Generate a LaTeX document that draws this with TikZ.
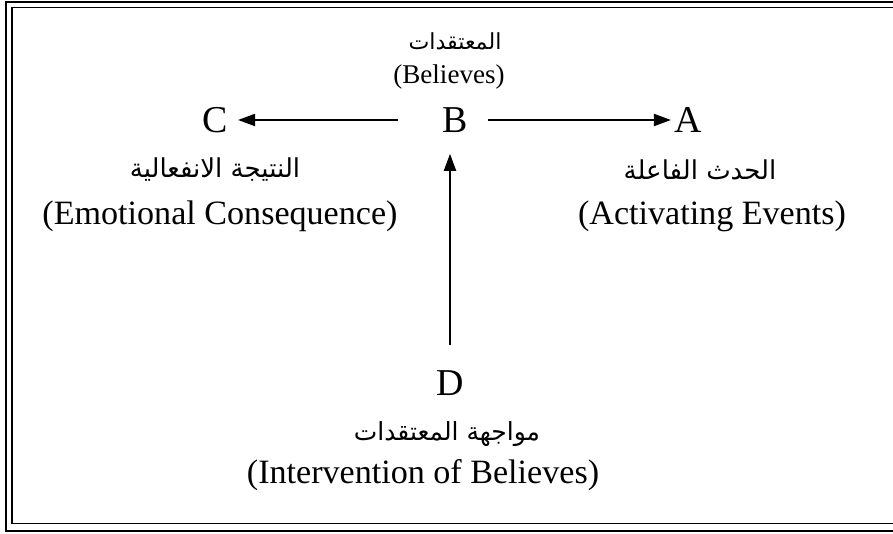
\documentclass[tikz,border=0pt]{standalone}
\usepackage{fontspec}
\setmainfont{Liberation Serif}
\newfontfamily\arabicfont[Script=Arabic]{DejaVu Sans}
\TeXXeTstate=1
\usetikzlibrary{positioning,arrows.meta}
\tikzset{
  %% nodes
  letter/.style  = {inner sep=0pt, font=\fontsize{21.6}{24}\selectfont},
  lbl/.style     = {inner sep=0pt, font=\fontsize{19.4}{22}\selectfont},
  lblsmall/.style= {inner sep=0pt, font=\fontsize{15.4}{18}\selectfont},
  arlbl/.style   = {inner sep=0pt, font=\arabicfont\fontsize{14.8}{18}\selectfont},
  arsmall/.style = {inner sep=0pt, font=\arabicfont\fontsize{12.6}{15}\selectfont},
  %% arrows
  flow/.style    = {-{Triangle[length=0.34cm,width=0.24cm]}, draw=black, line width=1.1pt},
  %% frame
  outer/.style   = {draw=black, line width=1.5pt},
  inner/.style   = {draw=black, line width=0.6pt},
}

\begin{document}
\begin{tikzpicture}
\useasboundingbox (0,0) rectangle (17.86,10.68);

%% ---- double frame (right side runs off the page) ----
\draw[outer] (0.12,0.06) rectangle (18.2,10.64);
\draw[inner] (0.24,0.21) rectangle (18.1,10.53);

%% ---- the four letters ----
\node[letter] (B) at (9.10,8.28) {B};
\node[letter] (C) at (4.30,8.28) {C};
\node[letter] (A) at (13.76,8.28) {A};
\node[letter] (D) at (9.00,3.02) {D};

%% ---- labels ----
\node[arsmall] (arB) at (9.10,9.86) {\beginR المعتقدات\endR};
\node[lblsmall] (enB) at (8.98,9.14) {(Believes)};

\node[arlbl] (arC) at (4.30,7.28) {\beginR النتيجة الانفعالية\endR};
\node[lbl] (enC) at (4.40,6.36) {(Emotional Consequence)};

\node[arlbl] (arA) at (14.00,7.28) {\beginR الحدث الفاعلة\endR};
\node[lbl] (enA) at (14.24,6.36) {(Activating Events)};

\node[arlbl, font=\arabicfont\fontsize{14.2}{18}\selectfont] (arD) at (8.94,2.00) {\beginR مواجهة المعتقدات\endR};
\node[lbl] (enD) at (8.46,1.18) {(Intervention of Believes)};

%% ---- arrows ----
\draw[flow, shorten <=0.88cm, shorten >=0.2cm] (B.west) -- (C.east);
\draw[flow, shorten <=0.4cm, shorten >=0.06cm] (B.east) -- (A.west);
\draw[flow, shorten <=0.5cm, shorten >=0.42cm] (D.north) -- (D.north |- B.south);
\end{tikzpicture}
\end{document}
